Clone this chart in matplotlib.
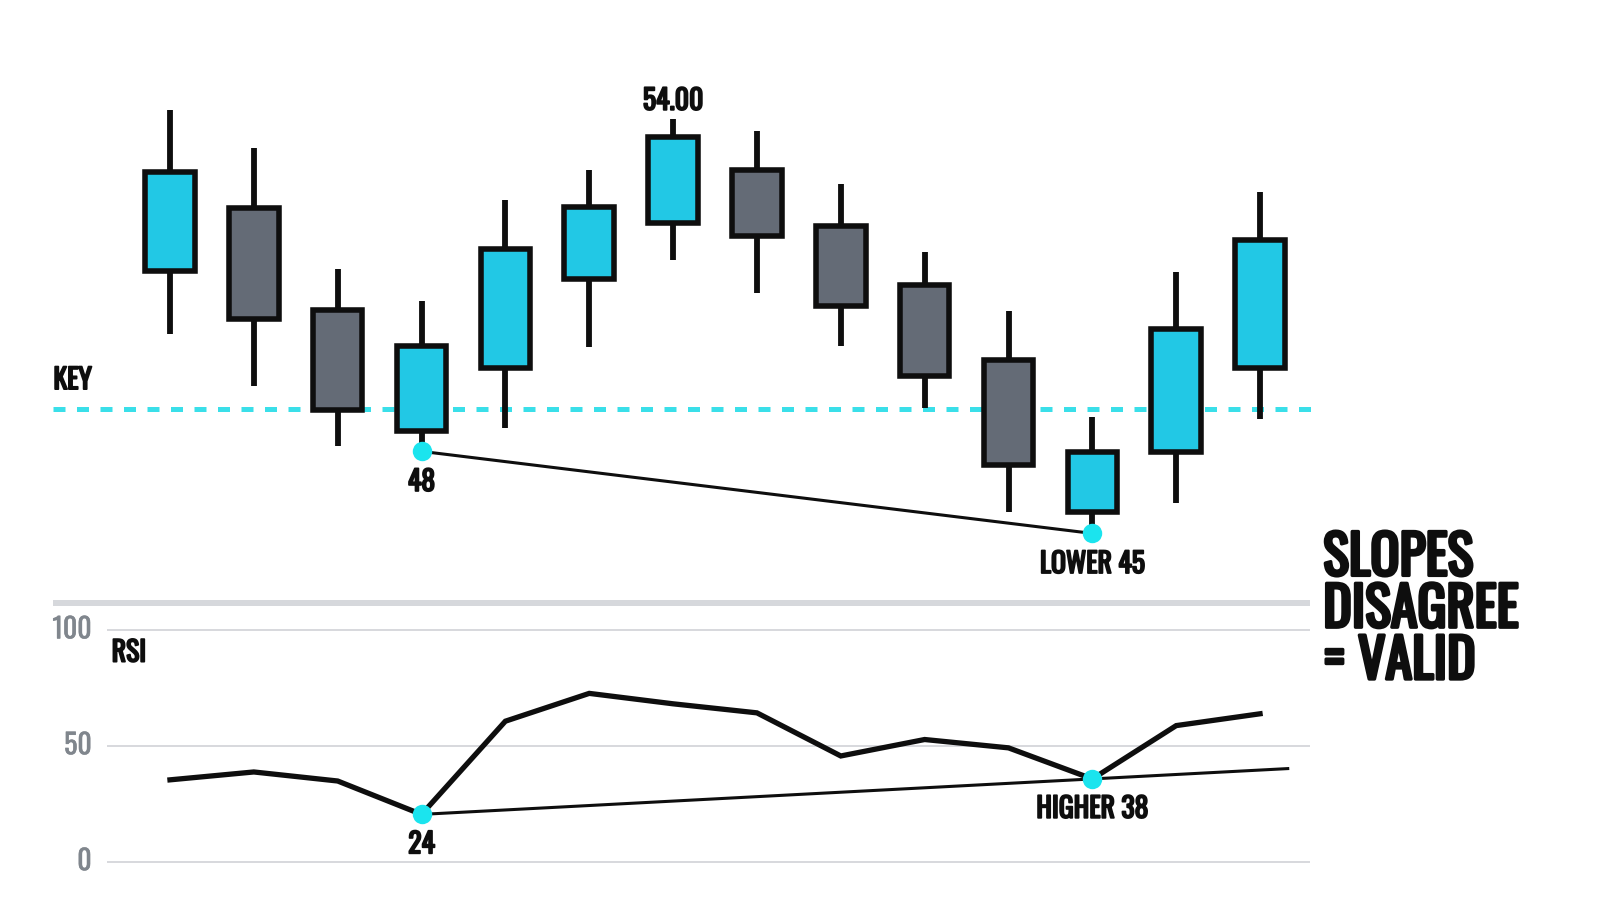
import numpy as np
import matplotlib
matplotlib.use("Agg")
import matplotlib.pyplot as plt
from matplotlib import font_manager as fm
from matplotlib.patches import Rectangle
import matplotlib.patheffects as pe

# ---------------- data ----------------
opens  = [54.60, 56.89, 53.18, 48.75, 51.04, 54.30, 56.36, 58.28, 56.25, 54.08, 51.34, 45.79, 47.96, 51.04]
highs  = [60.49, 59.10, 54.68, 53.48, 57.19, 58.28, 60.15, 59.70, 57.79, 55.28, 53.14, 49.24, 54.56, 57.49]
lows   = [52.28, 50.40, 48.19, 48.00, 48.86, 51.83, 55.01, 53.78, 51.86, 49.58, 45.79, 45.00, 46.13, 49.20]
closes = [58.20, 52.84, 49.50, 51.86, 55.39, 56.93, 59.48, 55.88, 53.33, 50.74, 47.51, 47.96, 52.46, 55.73]
key_level = 49.54
rsi = [35.3, 38.7, 34.8, 20.4, 60.6, 72.6, 68.1, 64.2, 45.6, 52.7, 49.1, 35.7, 58.7, 63.8]
pivot_idx = [3, 11]
price_pivot_labels = ["48", "LOWER 45"]
rsi_pivot_labels = ["24", "HIGHER 38"]
high_label_idx = 6
high_label = "54.00"
rsi_ticks = [0, 50, 100]
rsi_ticklabels = ["0", "50", "100"]
headline = ["SLOPES", "DISAGREE", "= VALID"]

# ---------------- style ----------------
def pick(cands):
    names = {f.name for f in fm.fontManager.ttflist}
    for c in cands:
        if c in names:
            return c
    return "DejaVu Sans"

FONT = pick(["Oswald", "Bebas Neue", "Roboto Condensed", "Liberation Sans Narrow",
             "Liberation Sans", "DejaVu Sans"])
plt.rcParams["font.family"] = [FONT, "DejaVu Sans"]

UP = "#22C8E5"
DOWN = "#646B76"
INK = "#0E0E0E"
KEYC = "#3ADFE9"
DOT = "#1BE4EE"
GRID = "#D4D6DA"
SEP = "#D6D8DC"
TICKC = "#80868D"

def bold(w, c=INK):
    return [pe.withStroke(linewidth=w, foreground=c)]

fig = plt.figure(figsize=(16, 9.14), dpi=100)
FH = 891.0
top_frac = 560 / FH
ax = fig.add_axes([0, 1 - top_frac, 1, top_frac])
ax2 = fig.add_axes([0, 0, 1, 1 - top_frac])
XL = (-2.027, 17.054)
for a in (ax, ax2):
    a.set_xlim(*XL)
    a.axis("off")
ax.set_ylim(43.5, 64.5)
ax2.set_ylim(-22.57, 123.9)

x = np.arange(len(opens))
BW = 0.59
LBL = dict(fontsize=20, color=INK, path_effects=bold(1.3))

# key level
ax.hlines(key_level, -1.397, 13.66, colors=KEYC, lw=3.6, linestyles=(0, (2.4, 2.3)), zorder=1)
ax.annotate("KEY", (-1.39, key_level), xytext=(0, 14.5), textcoords="offset points",
            ha="left", va="baseline", **LBL)

# candles
ax.vlines(x, lows, highs, colors=INK, lw=4.2, zorder=2)
for i in x:
    o, c = opens[i], closes[i]
    ax.add_patch(Rectangle((i - BW / 2, min(o, c)), BW, abs(c - o),
                           facecolor=UP if c >= o else DOWN, edgecolor=INK,
                           lw=4, joinstyle="miter", zorder=3))

# high label
ax.annotate(high_label, (high_label_idx, highs[high_label_idx]), xytext=(0, 6.6),
            textcoords="offset points", ha="center", va="baseline", **LBL)

# price divergence line
pp = [lows[i] for i in pivot_idx]
ax.plot(pivot_idx, pp, color=INK, lw=2.2, zorder=4, solid_capstyle="round")
ax.plot(pivot_idx, pp, "o", ms=14, color=DOT, mec="none", zorder=5)
for i, v, t in zip(pivot_idx, pp, price_pivot_labels):
    ax.annotate(t, (i, v), xytext=(0, -28.5), textcoords="offset points",
                ha="center", va="baseline", **LBL)

# RSI panel
ax2.hlines(111.5, -1.39, 13.6, colors=SEP, lw=4.3, zorder=1)
ax2.hlines(rsi_ticks, -0.755, 13.6, colors=GRID, lw=1.3, zorder=1)
for v, t in zip(rsi_ticks, rsi_ticklabels):
    ax2.text(-0.934, v, t, ha="right", va="center", fontsize=20, color=TICKC,
             path_effects=bold(0.4, TICKC))
ax2.text(-0.695, 86.3, "RSI", ha="left", va="baseline", **LBL)
ax2.plot(x, rsi, color=INK, lw=3.8, zorder=3, solid_joinstyle="miter")

rp = [rsi[i] for i in pivot_idx]
slope = (rp[1] - rp[0]) / (pivot_idx[1] - pivot_idx[0])
x_end = 13.33
ax2.plot([pivot_idx[0], x_end], [rp[0], rp[0] + slope * (x_end - pivot_idx[0])],
         color=INK, lw=2.2, zorder=4)
ax2.plot(pivot_idx, rp, "o", ms=14, color=DOT, mec="none", zorder=5)
for i, v, t in zip(pivot_idx, rp, rsi_pivot_labels):
    ax2.annotate(t, (i, v), xytext=(0, -28), textcoords="offset points",
                 ha="center", va="baseline", **LBL)

# headline (anchored at the baseline of its last line)
fig.text(0.827, 1 - 679 / 914, "\n".join(headline), ha="left", va="baseline",
         fontsize=39, color=INK, linespacing=0.95, path_effects=bold(2.4))

fig.savefig("out.png", dpi=100, facecolor="white")
